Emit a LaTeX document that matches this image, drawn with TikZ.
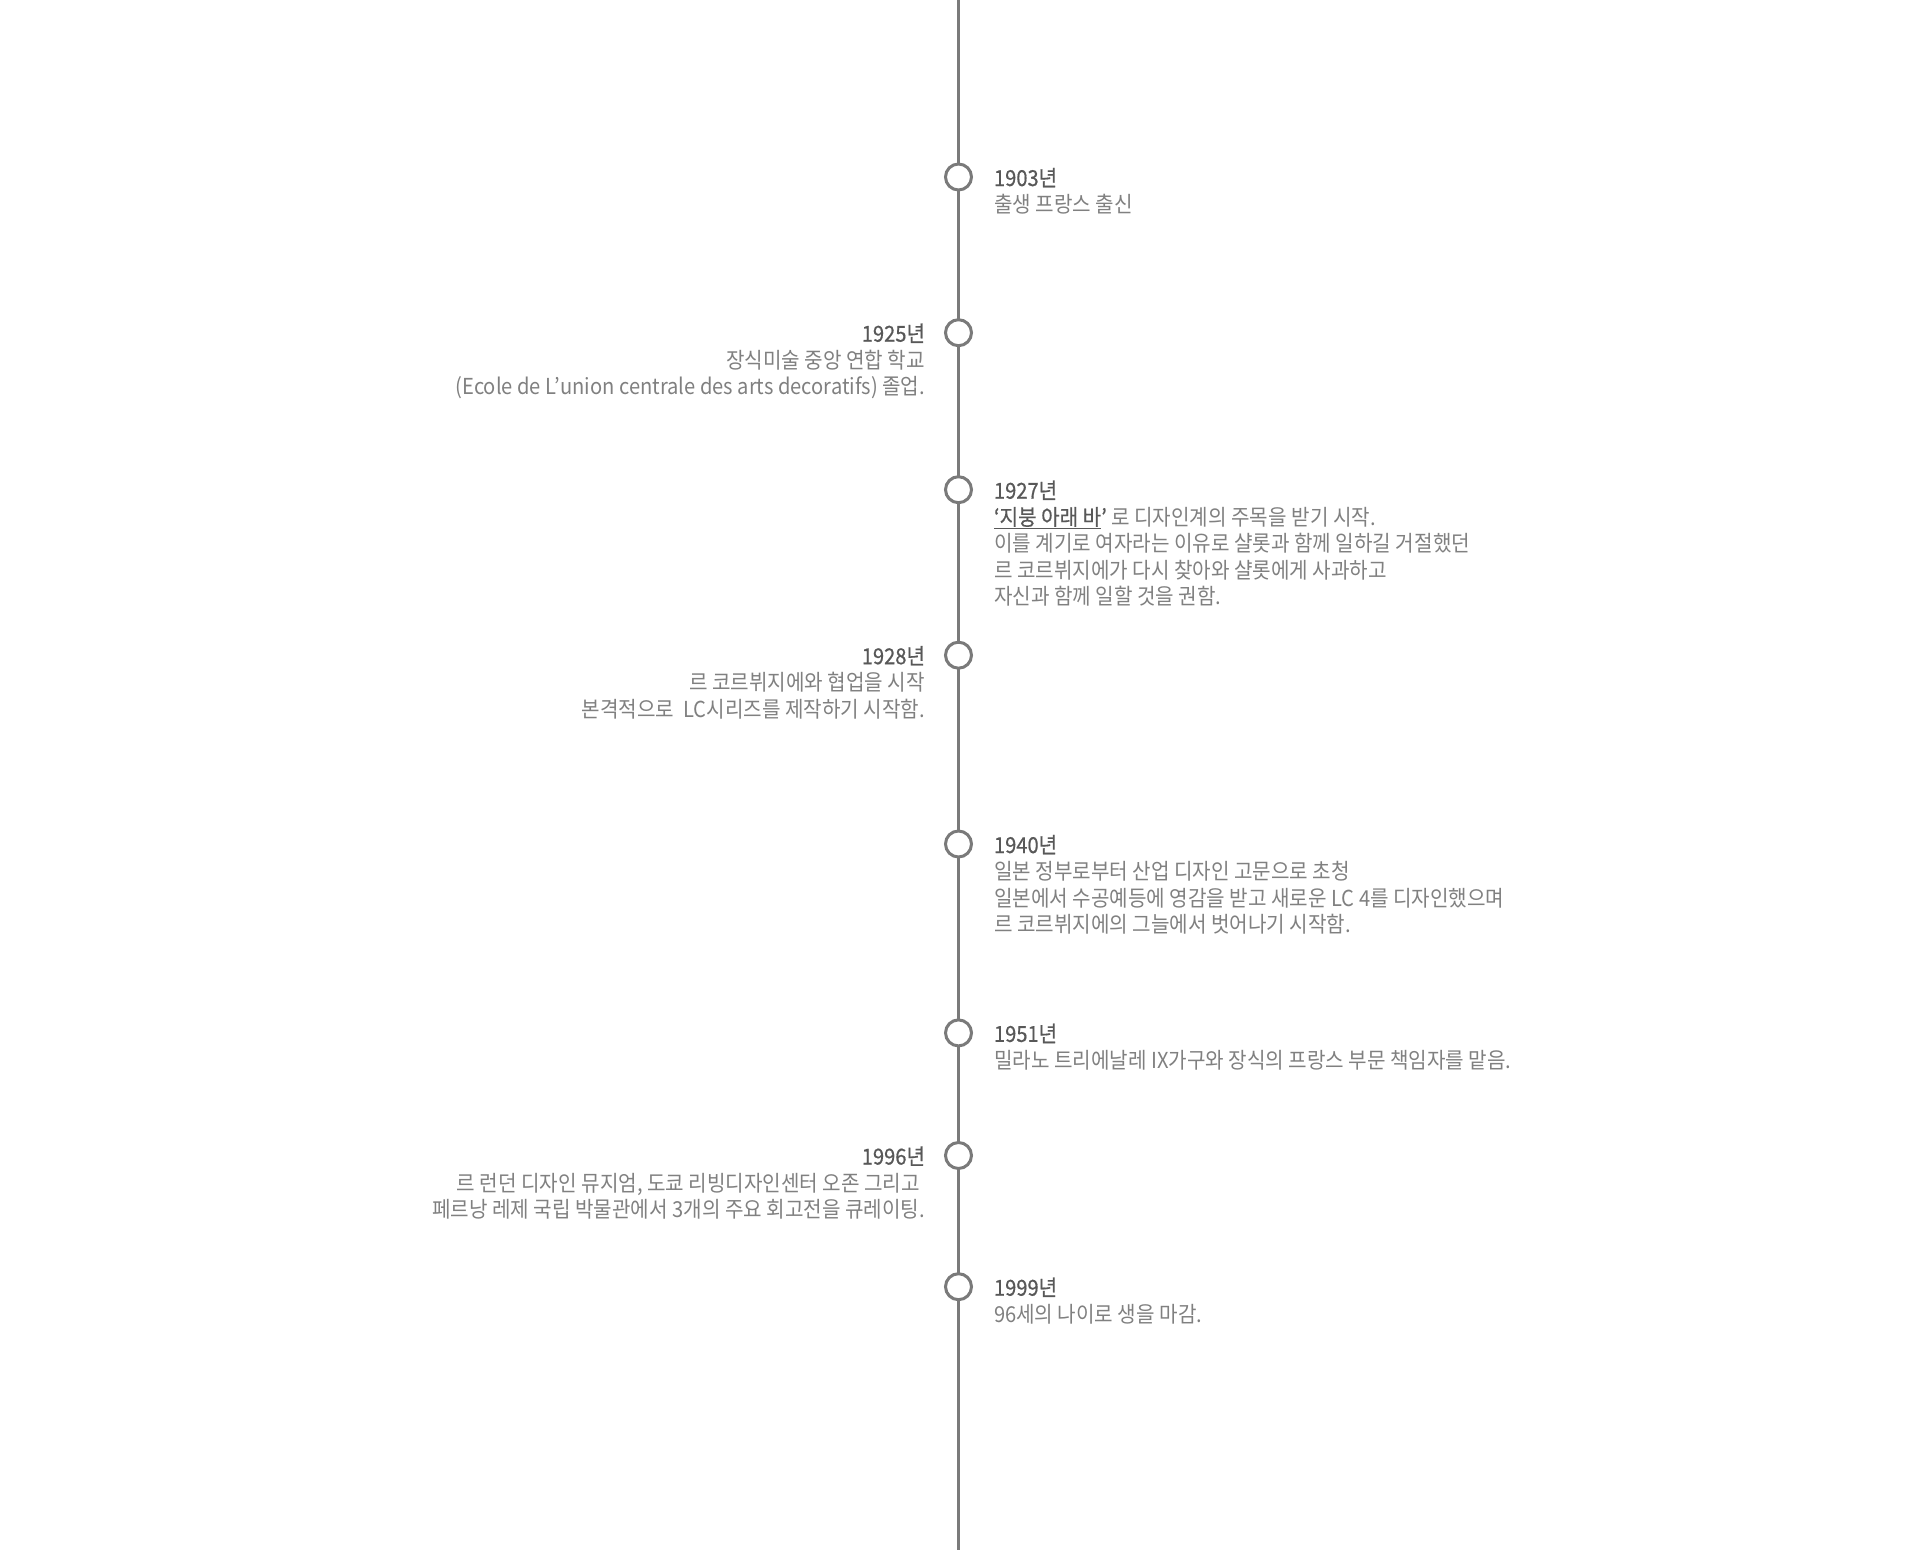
\documentclass[tikz,border=0pt]{standalone}
\usepackage{fontspec}
\newfontfamily\kr{Noto Sans CJK KR}[FakeStretch=0.915]
\newfontfamily\krm{Noto Sans CJK KR}[FakeStretch=0.915,FakeBold=0.6]
\definecolor{linecol}{RGB}{122,122,122}
\definecolor{yearcol}{RGB}{88,88,88}
\definecolor{bodycol}{RGB}{128,128,128}
\begin{document}
\begin{tikzpicture}[x=1pt,y=-1pt,
  every node/.style={inner sep=0pt,outer sep=0pt},
  yr/.style={font=\krm\fontsize{22}{27}\selectfont,text=yearcol},
  bd/.style={font=\kr\fontsize{22}{27}\selectfont,text=bodycol},
  R/.style={anchor=base west},
  L/.style={anchor=base east},
  dot/.style={circle,draw=linecol,line width=3pt,fill=white,minimum size=26pt}]
\useasboundingbox (0,0) rectangle (1920,1550);
\coordinate (top) at (958.5,0);
\coordinate (bot) at (958.5,1550);
\draw[linecol,line width=3pt] (top) -- (bot);
% circles
\node[dot] (c1903) at (958.5,177) {};
\node[dot] (c1925) at (958.5,332.7) {};
\node[dot] (c1927) at (958.5,489.7) {};
\node[dot] (c1928) at (958.5,655.2) {};
\node[dot] (c1940) at (958.5,844) {};
\node[dot] (c1951) at (958.5,1032.9) {};
\node[dot] (c1996) at (958.5,1155.5) {};
\node[dot] (c1999) at (958.5,1286.7) {};
% 1903
\node[yr,R] (y1903) at (994,186) {1903년};
\node[bd,R] (t1903a) at (994,212.5) {출생 프랑스 출신};
% 1925
\node[yr,L] (y1925) at (925,341.7) {1925년};
\node[bd,L] (t1925a) at (925,368.2) {장식미술 중앙 연합 학교};
\node[bd,L] (t1925b) at (925,394.7) {(Ecole de L’union centrale des arts decoratifs) 졸업.};
% 1927
\node[yr,R] (y1927) at (994,498.7) {1927년};
\node[bd,R] (t1927a) at (994,525.2) {{\krm\color{yearcol}\underline{‘지붕 아래 바}’} 로 디자인계의 주목을 받기 시작.};
\node[bd,R] (t1927b) at (994,551.7) {이를 계기로 여자라는 이유로 샬롯과 함께 일하길 거절했던};
\node[bd,R] (t1927c) at (994,578.2) {르 코르뷔지에가 다시 찾아와 샬롯에게 사과하고};
\node[bd,R] (t1927d) at (994,604.7) {자신과 함께 일할 것을 권함.};
% 1928
\node[yr,L] (y1928) at (925,664.2) {1928년};
\node[bd,L] (t1928a) at (925,690.7) {르 코르뷔지에와 협업을 시작};
\node[bd,L] (t1928b) at (925,717.2) {본격적으로 \ LC시리즈를 제작하기 시작함.};
% 1940
\node[yr,R] (y1940) at (994,853) {1940년};
\node[bd,R] (t1940a) at (994,879.5) {일본 정부로부터 산업 디자인 고문으로 초청};
\node[bd,R] (t1940b) at (994,906) {일본에서 수공예등에 영감을 받고 새로운 LC 4를 디자인했으며};
\node[bd,R] (t1940c) at (994,932.5) {르 코르뷔지에의 그늘에서 벗어나기 시작함.};
% 1951
\node[yr,R] (y1951) at (994,1041.9) {1951년};
\node[bd,R] (t1951a) at (994,1068.4) {밀라노 트리에날레 IX가구와 장식의 프랑스 부문 책임자를 맡음.};
% 1996
\node[yr,L] (y1996) at (925,1164.5) {1996년};
\node[bd,L] (t1996a) at (920,1191) {르 런던 디자인 뮤지엄, 도쿄 리빙디자인센터 오존 그리고};
\node[bd,L] (t1996b) at (925,1217.5) {페르낭 레제 국립 박물관에서 3개의 주요 회고전을 큐레이팅.};
% 1999
\node[yr,R] (y1999) at (994,1295.7) {1999년};
\node[bd,R] (t1999a) at (994,1322.2) {96세의 나이로 생을 마감.};
\end{tikzpicture}
\end{document}
